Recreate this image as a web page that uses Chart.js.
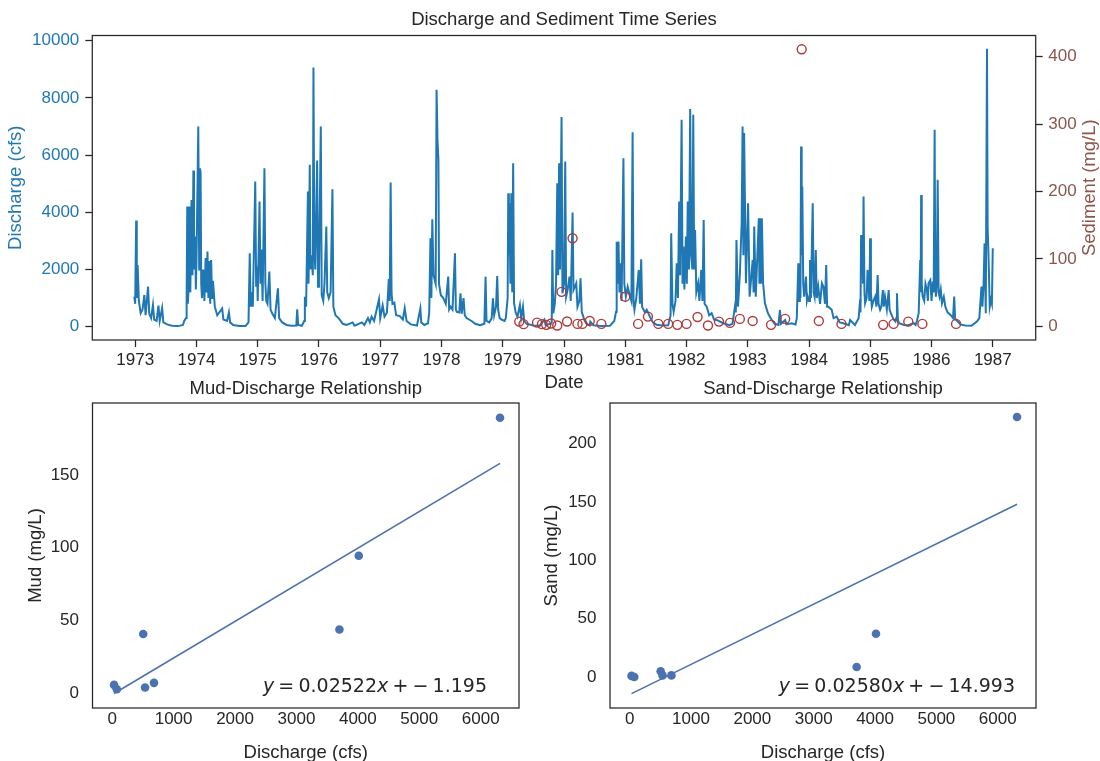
<!DOCTYPE html>
<html>
<head>
<meta charset="utf-8">
<title>Discharge and Sediment Time Series</title>
<script src="https://cdn.jsdelivr.net/npm/chart.js@4.4.1/dist/chart.umd.min.js"></script>
<style>
  html, body { margin: 0; padding: 0; background: #fff; }
  #page { position: relative; width: 1100px; height: 761px; overflow: hidden; background: #fff; }
  #page canvas { position: absolute; }
</style>
</head>
<body>
<div id="page">
  <canvas id="seriesChart" width="1100" height="400" style="left:0;top:0"></canvas>
  <canvas id="mudChart" width="560" height="400" style="left:0;top:370px"></canvas>
  <canvas id="sandChart" width="580" height="400" style="left:520px;top:370px"></canvas>
</div>
<script>
// ---- data ----
const yearTicks = [1973, 1974, 1975, 1976, 1977, 1978, 1979, 1980, 1981, 1982, 1983, 1984, 1985, 1986, 1987];
const dischargeTicks = [0, 2000, 4000, 6000, 8000, 10000];
const sedimentTicks = [0, 100, 200, 300, 400];

// daily discharge, decimal year / cfs
const flowDates = [
  1972.985, 1973.000, 1973.016, 1973.026, 1973.040, 1973.060, 1973.090, 1973.120, 1973.150, 1973.170, 1973.210, 1973.230, 1973.260,
  1973.290, 1973.310, 1973.350, 1973.380, 1973.400, 1973.440, 1973.460, 1973.520, 1973.600, 1973.700, 1973.780, 1973.800, 1973.830,
  1973.840, 1973.850, 1973.860, 1973.875, 1973.890, 1973.900, 1973.920, 1973.935, 1973.950, 1973.960, 1973.980, 1973.990,
  1974.000, 1974.030, 1974.045, 1974.058, 1974.068, 1974.078, 1974.090, 1974.110, 1974.130, 1974.150, 1974.165, 1974.180, 1974.195,
  1974.210, 1974.225, 1974.240, 1974.255, 1974.270, 1974.300, 1974.340, 1974.420, 1974.440, 1974.500, 1974.530, 1974.550, 1974.600,
  1974.700, 1974.800, 1974.850,
  1974.870, 1974.885, 1974.900, 1974.920, 1974.960, 1974.975, 1974.990, 1975.000, 1975.030, 1975.045, 1975.060, 1975.080, 1975.110,
  1975.125, 1975.140, 1975.160, 1975.190, 1975.210, 1975.240, 1975.280, 1975.330, 1975.350, 1975.400, 1975.470, 1975.550, 1975.630,
  1975.645, 1975.660, 1975.720, 1975.760,
  1975.770, 1975.790, 1975.820, 1975.830, 1975.850, 1975.860, 1975.880, 1975.900, 1975.910, 1975.925, 1975.940, 1975.970, 1975.985,
  1976.000, 1976.030, 1976.045, 1976.070, 1976.090, 1976.120, 1976.135, 1976.160, 1976.190, 1976.220, 1976.235, 1976.270, 1976.320,
  1976.390, 1976.450, 1976.550, 1976.580, 1976.600, 1976.700, 1976.740, 1976.800, 1976.830, 1976.860, 1976.900,
  1976.980, 1977.000, 1977.040, 1977.070, 1977.110, 1977.140, 1977.155, 1977.170, 1977.185, 1977.200, 1977.230, 1977.260, 1977.320,
  1977.370, 1977.400, 1977.430, 1977.500, 1977.600, 1977.655, 1977.670, 1977.720, 1977.780,
  1977.800, 1977.820, 1977.835, 1977.850, 1977.870, 1977.905, 1977.920, 1977.935, 1977.950, 1977.960, 1977.990, 1978.030, 1978.070,
  1978.110, 1978.125, 1978.150, 1978.180, 1978.220, 1978.235, 1978.250, 1978.290, 1978.310, 1978.330, 1978.360, 1978.380, 1978.410,
  1978.490, 1978.550, 1978.630, 1978.700, 1978.720, 1978.735, 1978.780, 1978.820, 1978.840, 1978.860, 1978.890, 1978.910, 1978.925,
  1978.950, 1978.980, 1979.030,
  1979.050, 1979.080, 1979.090, 1979.100, 1979.110, 1979.125, 1979.140, 1979.155, 1979.170, 1979.185, 1979.210, 1979.240, 1979.280,
  1979.300, 1979.330, 1979.350, 1979.390, 1979.500, 1979.600, 1979.680, 1979.700, 1979.780,
  1979.800, 1979.810, 1979.825, 1979.850, 1979.870, 1979.890, 1979.905, 1979.920, 1979.935, 1979.960, 1979.975, 1980.000, 1980.020,
  1980.035, 1980.060, 1980.090, 1980.110, 1980.140, 1980.155, 1980.200, 1980.220, 1980.250, 1980.270, 1980.290, 1980.330, 1980.370,
  1980.420, 1980.430, 1980.480, 1980.600, 1980.750, 1980.820,
  1980.850, 1980.860, 1980.875, 1980.890, 1980.905, 1980.920, 1980.940, 1980.970, 1980.985, 1981.010, 1981.040, 1981.080, 1981.100,
  1981.120, 1981.135, 1981.150, 1981.180, 1981.220, 1981.240, 1981.260, 1981.275, 1981.320, 1981.350, 1981.400, 1981.450, 1981.510,
  1981.600, 1981.700, 1981.730,
  1981.740, 1981.750, 1981.770, 1981.790, 1981.820, 1981.840, 1981.860, 1981.880, 1981.895, 1981.920, 1981.935, 1981.950, 1981.965,
  1981.990, 1982.005, 1982.020, 1982.040, 1982.060, 1982.075, 1982.095, 1982.110, 1982.125, 1982.140, 1982.160, 1982.190, 1982.210,
  1982.240, 1982.260, 1982.280, 1982.295, 1982.330, 1982.370, 1982.410, 1982.450, 1982.490, 1982.600, 1982.700, 1982.750, 1982.790,
  1982.805, 1982.815, 1982.840, 1982.870, 1982.900, 1982.915, 1982.928, 1982.940, 1982.970, 1983.005, 1983.030, 1983.080, 1983.095,
  1983.105, 1983.130, 1983.180, 1983.190, 1983.200, 1983.215, 1983.230, 1983.250, 1983.280, 1983.330, 1983.390, 1983.440, 1983.500,
  1983.525, 1983.540, 1983.610, 1983.630, 1983.715, 1983.780,
  1983.800, 1983.825, 1983.840, 1983.850, 1983.860, 1983.870, 1983.880, 1983.890, 1983.905, 1983.920, 1983.950, 1983.965, 1983.980,
  1984.000, 1984.015, 1984.030, 1984.060, 1984.075, 1984.090, 1984.110, 1984.125, 1984.150, 1984.180, 1984.210, 1984.235, 1984.260,
  1984.280, 1984.295, 1984.315, 1984.370, 1984.400, 1984.450, 1984.500, 1984.560, 1984.650, 1984.670, 1984.750, 1984.780,
  1984.810, 1984.825, 1984.840, 1984.850, 1984.860, 1984.870, 1984.880, 1984.890, 1984.905, 1984.915, 1984.940, 1984.955, 1984.970,
  1984.985, 1984.997, 1985.010, 1985.025, 1985.050, 1985.080, 1985.100, 1985.120, 1985.135, 1985.160, 1985.180, 1985.205, 1985.220,
  1985.240, 1985.270, 1985.300, 1985.315, 1985.335, 1985.380, 1985.410, 1985.425, 1985.435, 1985.450, 1985.470, 1985.550, 1985.620,
  1985.710, 1985.740, 1985.760,
  1985.790, 1985.815, 1985.822, 1985.830, 1985.840, 1985.855, 1985.880, 1985.900, 1985.925, 1985.940, 1985.950, 1985.980, 1986.000,
  1986.020, 1986.035, 1986.050, 1986.060, 1986.070, 1986.085, 1986.100, 1986.115, 1986.130, 1986.150, 1986.170, 1986.200, 1986.225,
  1986.260, 1986.310, 1986.350, 1986.370, 1986.385, 1986.405, 1986.470, 1986.550, 1986.650, 1986.740,
  1986.780, 1986.815, 1986.830, 1986.850, 1986.865, 1986.885, 1986.905, 1986.915, 1986.930, 1986.950, 1986.970, 1986.985, 1986.999
];
const flowCfs = [
  1050, 800, 3710, 1000, 2160, 900, 470, 600, 1110, 400, 1400, 450, 300,
  760, 250, 200, 740, 200, 650, 150, 80, 30, 20, 60, 200, 300,
  900, 4200, 800, 1500, 4200, 1200, 4430, 1800, 5460, 2000, 3150, 1300,
  2200, 7000, 2000, 5540, 5400, 1500, 1000, 2000, 900, 2400, 1200, 2630, 1000,
  2300, 800, 2330, 1000, 1600, 700, 400, 640, 250, 200, 500, 150, 60,
  25, 20, 150,
  2570, 700, 1200, 700, 5080, 1400, 2100, 900, 4380, 1500, 2700, 900, 5540,
  1530, 900, 800, 1930, 600, 450, 300, 1340, 300, 150, 60, 30, 40,
  610, 60, 30, 200,
  1050, 700, 4730, 1500, 5660, 2000, 2500, 1800, 9065, 2700, 2000, 5810, 1400,
  1800, 7000, 1100, 900, 1500, 3500, 1200, 1000, 1200, 4810, 700, 400, 300,
  100, 60, 150, 40, 50, 150, 60, 300, 150, 350, 200,
  960, 300, 740, 350, 500, 1670, 900, 5040, 1190, 800, 840, 400, 370,
  250, 640, 200, 80, 40, 640, 150, 60, 120,
  500, 3090, 1000, 3760, 1800, 1500, 8285, 6535, 5835, 1500, 1100, 1000, 800,
  1750, 600, 700, 600, 2570, 600, 520, 500, 1170, 450, 1000, 400, 300,
  200, 100, 50, 100, 1750, 200, 150, 300, 990, 400, 700, 1775, 600,
  300, 250, 200,
  300, 1000, 4670, 2500, 4320, 1500, 4670, 1200, 5720, 820, 500, 350, 760,
  300, 700, 200, 100, 40, 30, 250, 60, 100,
  150, 2685, 470, 800, 1500, 5020, 1800, 5720, 2000, 7330, 1170, 1500, 5775,
  1050, 1300, 1750, 900, 3990, 1280, 1520, 700, 900, 1690, 520, 250, 100,
  50, 175, 50, 25, 30, 200,
  520, 2975, 1500, 2975, 1200, 2220, 900, 5890, 1500, 1050, 1400, 1050, 900,
  6800, 900, 590, 1000, 1985, 800, 2360, 700, 500, 590, 360, 150, 70,
  40, 50, 300,
  400, 3270, 800, 520, 900, 2220, 1000, 4380, 1800, 7235, 1500, 2800, 1300,
  3150, 1500, 4380, 2000, 7610, 2500, 2000, 7410, 2000, 3385, 1200, 1520, 900,
  1985, 900, 3735, 800, 700, 400, 470, 250, 235, 120, 50, 100, 700,
  500, 3035, 700, 1810, 3620, 7000, 2500, 6770, 1520, 4320, 1050, 2335, 1200,
  3500, 1050, 3790, 1500, 3790, 1500, 3790, 1520, 820, 470, 235, 100, 60,
  585, 100, 235, 80, 120, 80,
  300, 2220, 900, 2220, 1000, 6300, 2500, 4900, 1500, 1050, 1750, 900, 1050,
  900, 2335, 1000, 4320, 1200, 1050, 2685, 1000, 1400, 800, 1520, 1400, 800,
  2160, 700, 700, 590, 300, 355, 150, 120, 50, 235, 60, 180,
  300, 700, 500, 3210, 1800, 3210, 1500, 4550, 1200, 820, 1000, 1985, 1520,
  900, 3090, 1200, 700, 900, 1050, 700, 1810, 800, 590, 700, 1280, 700,
  1050, 600, 1280, 600, 470, 250, 180, 300, 1170, 250, 120, 60, 50,
  120, 60, 200,
  470, 2335, 1200, 4610, 1500, 1050, 900, 1500, 1280, 900, 1520, 1630, 900,
  1575, 1200, 6885, 2000, 1050, 1500, 5135, 1200, 1050, 1300, 820, 1050, 700,
  500, 410, 300, 1050, 250, 235, 80, 40, 30, 180,
  300, 1400, 700, 1520, 2920, 470, 9720, 3500, 2450, 700, 935, 800, 2740
];

// sediment samples, decimal year / mg/L
const sampleDates = [
  1979.27, 1979.34, 1979.56, 1979.64, 1979.71, 1979.79, 1979.89, 1979.96, 1980.05, 1980.14,
  1980.22, 1980.30, 1980.42, 1980.61, 1981.00, 1981.21, 1981.37, 1981.54, 1981.70, 1981.85,
  1982.00, 1982.18, 1982.35, 1982.53, 1982.71, 1982.87, 1983.08, 1983.38, 1983.61, 1983.88,
  1984.16, 1984.53, 1985.21, 1985.38, 1985.62, 1985.85, 1986.40
];
const sampleSediment = [
  6.8, 3, 5.3, 3, 2, 4, 1, 51, 7, 130.5,
  3.4, 3.4, 7.8, 3.4, 43.8, 3.4, 14.2, 3.4, 3.4, 2,
  3.4, 13.7, 1, 6.8, 4.9, 10.8, 7.8, 2, 10.8, 411,
  7.8, 3.4, 2, 3.4, 6.8, 3.4, 3.4
];

// paired samples for the two relationship panels
const pairDischarge = [30, 75, 505, 535, 680, 3700, 4015, 6315];
const pairMud = [5.5, 2.5, 40.5, 3.7, 6.9, 43.7, 94.4, 189.4];
const pairSand = [1.0, 0.0, 4.9, 1.4, 1.4, 8.6, 37.1, 222.6];
const mudFit = [0.02522, -1.195];
const sandFit = [0.02580, -14.993];
const relationTicks = [0, 1000, 2000, 3000, 4000, 5000, 6000];
const mudTicks = [0, 50, 100, 150];
const sandTicks = [0, 50, 100, 150, 200];

// ---- styling ----
const INK = '#262626';
const FLOW_BLUE = '#1f77b4';
const SED_TEXT = '#8c564b';
const SED_MARK = '#b03a3a';
const DEEP_BLUE = '#4c72b0';
const SANS = '"Liberation Sans", Arial, Helvetica, sans-serif';
const TICK_SIZE = 17;
const LABEL_SIZE = 18.5;

Chart.defaults.font.family = SANS;
Chart.defaults.color = INK;
Chart.defaults.animation = false;
Chart.defaults.plugins.legend.display = false;
Chart.defaults.plugins.tooltip.enabled = false;

function fixedTicks(values) {
    return scale => { scale.ticks = values.map(v => ({ value: v })); };
}

function points(xs, ys) {
    return xs.map((x, i) => ({ x: x, y: ys[i] }));
}

// box round the plot area, like matplotlib spines
const framePlugin = {
    id: 'frame',
    afterDatasetsDraw(chart) {
        const { ctx, chartArea: a } = chart;
        ctx.save();
        ctx.strokeStyle = INK;
        ctx.lineWidth = 1.25;
        ctx.strokeRect(a.left, a.top, a.right - a.left, a.bottom - a.top);
        ctx.restore();
    }
};

// right-hand axis title reading bottom to top
const sideTitlePlugin = {
    id: 'sideTitle',
    afterDraw(chart, args, opts) {
        if (!opts.text) return;
        const { ctx, chartArea: a } = chart;
        ctx.save();
        ctx.translate(a.right + opts.offset, (a.top + a.bottom) / 2);
        ctx.rotate(-Math.PI / 2);
        ctx.font = LABEL_SIZE + 'px ' + SANS;
        ctx.fillStyle = opts.color;
        ctx.textAlign = 'center';
        ctx.textBaseline = 'middle';
        ctx.fillText(opts.text, 0, 0);
        ctx.restore();
    }
};

// fitted line equation in the lower right corner
const equationPlugin = {
    id: 'equation',
    afterDatasetsDraw(chart, args, opts) {
        if (!opts.fit) return;
        const { ctx, chartArea: a } = chart;
        const [m, b] = opts.fit;
        const size = opts.size;
        const upright = size + 'px "DejaVu Sans"';
        const slanted = 'italic ' + upright;
        const gap = size * 0.22;
        const parts = [
            ['y', slanted, 0],
            ['=', upright, gap],
            [m.toFixed(5), upright, gap],
            ['x', slanted, 0],
            ['+', upright, gap]
        ];
        if (b < 0) parts.push(['\u2212', upright, gap]);
        parts.push([Math.abs(b).toFixed(3), upright, gap]);

        ctx.save();
        let total = 0;
        parts.forEach(p => {
            ctx.font = p[1];
            p.push(ctx.measureText(p[0]).width);
            total += p[2] + p[3];
        });
        let x = a.right - opts.right - total;
        const y = a.bottom - opts.bottom;
        ctx.fillStyle = INK;
        ctx.textBaseline = 'middle';
        ctx.textAlign = 'left';
        parts.forEach(p => {
            x += p[2];
            ctx.font = p[1];
            ctx.fillText(p[0], x, y);
            x += p[3];
        });
        ctx.restore();
    }
};

const tickMarks = {
    display: true,
    drawOnChartArea: false,
    drawTicks: true,
    tickLength: 7,
    tickWidth: 1.25,
    tickColor: INK
};

// no tick marks at all (bottom panels)
const noTicks = { display: false, drawTicks: false, tickLength: 0 };

// ---- top panel: discharge line with sediment samples on a twin axis ----
new Chart(document.getElementById('seriesChart'), {
    type: 'line',
    data: {
        datasets: [
            {
                label: 'Sediment',
                data: points(sampleDates, sampleSediment),
                yAxisID: 'sed',
                showLine: false,
                pointRadius: 4.5,
                pointBorderWidth: 1.4,
                pointBorderColor: SED_MARK,
                pointBackgroundColor: 'rgba(0,0,0,0)',
                order: 0
            },
            {
                label: 'Discharge',
                data: points(flowDates, flowCfs),
                yAxisID: 'q',
                borderColor: FLOW_BLUE,
                borderWidth: 2,
                pointRadius: 0,
                tension: 0,
                order: 1
            }
        ]
    },
    options: {
        responsive: false,
        layout: { padding: 0 },
        plugins: {
            title: {
                display: true,
                text: 'Discharge and Sediment Time Series',
                fullSize: false,
                color: INK,
                font: { size: LABEL_SIZE, weight: 'normal' },
                padding: { top: 8.5, bottom: 4.8 }
            },
            sideTitle: { text: 'Sediment (mg/L)', color: SED_TEXT, offset: 54 }
        },
        scales: {
            x: {
                type: 'linear',
                min: 1972.30,
                max: 1987.70,
                afterBuildTicks: fixedTicks(yearTicks),
                afterFit: scale => { scale.height = 60; },
                grid: tickMarks,
                border: { display: false },
                ticks: {
                    autoSkip: false,
                    maxRotation: 0,
                    padding: 3,
                    color: INK,
                    font: { size: TICK_SIZE },
                    callback: v => String(v)
                },
                title: {
                    display: true,
                    text: 'Date',
                    color: INK,
                    font: { size: LABEL_SIZE },
                    padding: { top: 0, bottom: 5.5 }
                }
            },
            q: {
                position: 'left',
                min: -466,
                max: 10185,
                afterBuildTicks: fixedTicks(dischargeTicks),
                afterFit: scale => { scale.width = 92.3; },
                grid: tickMarks,
                border: { display: false },
                ticks: {
                    padding: 6,
                    color: FLOW_BLUE,
                    font: { size: TICK_SIZE },
                    callback: v => String(v)
                },
                title: {
                    display: true,
                    text: 'Discharge (cfs)',
                    color: FLOW_BLUE,
                    font: { size: LABEL_SIZE },
                    padding: { top: 4.9, bottom: 0 }
                }
            },
            sed: {
                position: 'right',
                min: -20.5,
                max: 431.5,
                afterBuildTicks: fixedTicks(sedimentTicks),
                afterFit: scale => { scale.width = 64.3; },
                grid: tickMarks,
                border: { display: false },
                ticks: {
                    padding: 5.6,
                    color: SED_TEXT,
                    font: { size: TICK_SIZE },
                    callback: v => String(v)
                }
            }
        }
    },
    plugins: [framePlugin, sideTitlePlugin]
});

// ---- bottom panels: concentration against discharge with a fitted line ----
function relationChart(canvasId, opts) {
    const xs = pairDischarge;
    const lo = Math.min(...xs);
    const hi = Math.max(...xs);
    const [m, b] = opts.fit;
    return new Chart(document.getElementById(canvasId), {
        type: 'scatter',
        data: {
            datasets: [
                {
                    label: 'Fit',
                    data: [{ x: lo, y: m * lo + b }, { x: hi, y: m * hi + b }],
                    showLine: true,
                    borderColor: DEEP_BLUE,
                    borderWidth: 1.6,
                    pointRadius: 0,
                    order: 0
                },
                {
                    label: opts.label,
                    data: points(xs, opts.values),
                    pointRadius: 4.3,
                    pointBorderWidth: 0,
                    pointBackgroundColor: DEEP_BLUE,
                    order: 1
                }
            ]
        },
        options: {
            responsive: false,
            layout: { padding: { left: 0, top: 0, right: opts.padRight, bottom: 0 } },
            plugins: {
                title: {
                    display: true,
                    text: opts.title,
                    fullSize: false,
                    color: INK,
                    font: { size: LABEL_SIZE, weight: 'normal' },
                    padding: { top: 7.9, bottom: 2.9 }
                },
                equation: { fit: opts.fit, size: 19, right: opts.eqRight, bottom: 21 }
            },
            scales: {
                x: {
                    type: 'linear',
                    min: -321,
                    max: 6624,
                    afterBuildTicks: fixedTicks(relationTicks),
                    afterFit: scale => { scale.height = 62; },
                    grid: noTicks,
                    border: { display: false },
                    ticks: {
                        autoSkip: false,
                        maxRotation: 0,
                        padding: 1,
                        color: INK,
                        font: { size: TICK_SIZE },
                        callback: v => String(v)
                    },
                    title: {
                        display: true,
                        text: 'Discharge (cfs)',
                        color: INK,
                        font: { size: LABEL_SIZE },
                        padding: { top: 0, bottom: 5.5 }
                    }
                },
                y: {
                    min: opts.yMin,
                    max: opts.yMax,
                    afterBuildTicks: fixedTicks(opts.ticks),
                    afterFit: scale => { scale.width = opts.axisWidth; },
                    grid: noTicks,
                    border: { display: false },
                    ticks: {
                        padding: 13.5,
                        color: INK,
                        font: { size: TICK_SIZE },
                        callback: v => String(v)
                    },
                    title: {
                        display: true,
                        text: opts.label + ' (mg/L)',
                        color: INK,
                        font: { size: LABEL_SIZE },
                        padding: { top: opts.titleGap, bottom: 0 }
                    }
                }
            }
        },
        plugins: [framePlugin, equationPlugin]
    });
}

relationChart('mudChart', {
    title: 'Mud-Discharge Relationship',
    label: 'Mud',
    values: pairMud,
    fit: mudFit,
    ticks: mudTicks,
    yMin: -10.4,
    yMax: 199.6,
    axisWidth: 92.5,
    padRight: 41,
    titleGap: 24.5,
    eqRight: 32
});

relationChart('sandChart', {
    title: 'Sand-Discharge Relationship',
    label: 'Sand',
    values: pairSand,
    fit: sandFit,
    ticks: sandTicks,
    yMin: -26.5,
    yMax: 234.6,
    axisWidth: 90,
    padRight: 64,
    titleGap: 20.5,
    eqRight: 21
});
</script>
</body>
</html>
